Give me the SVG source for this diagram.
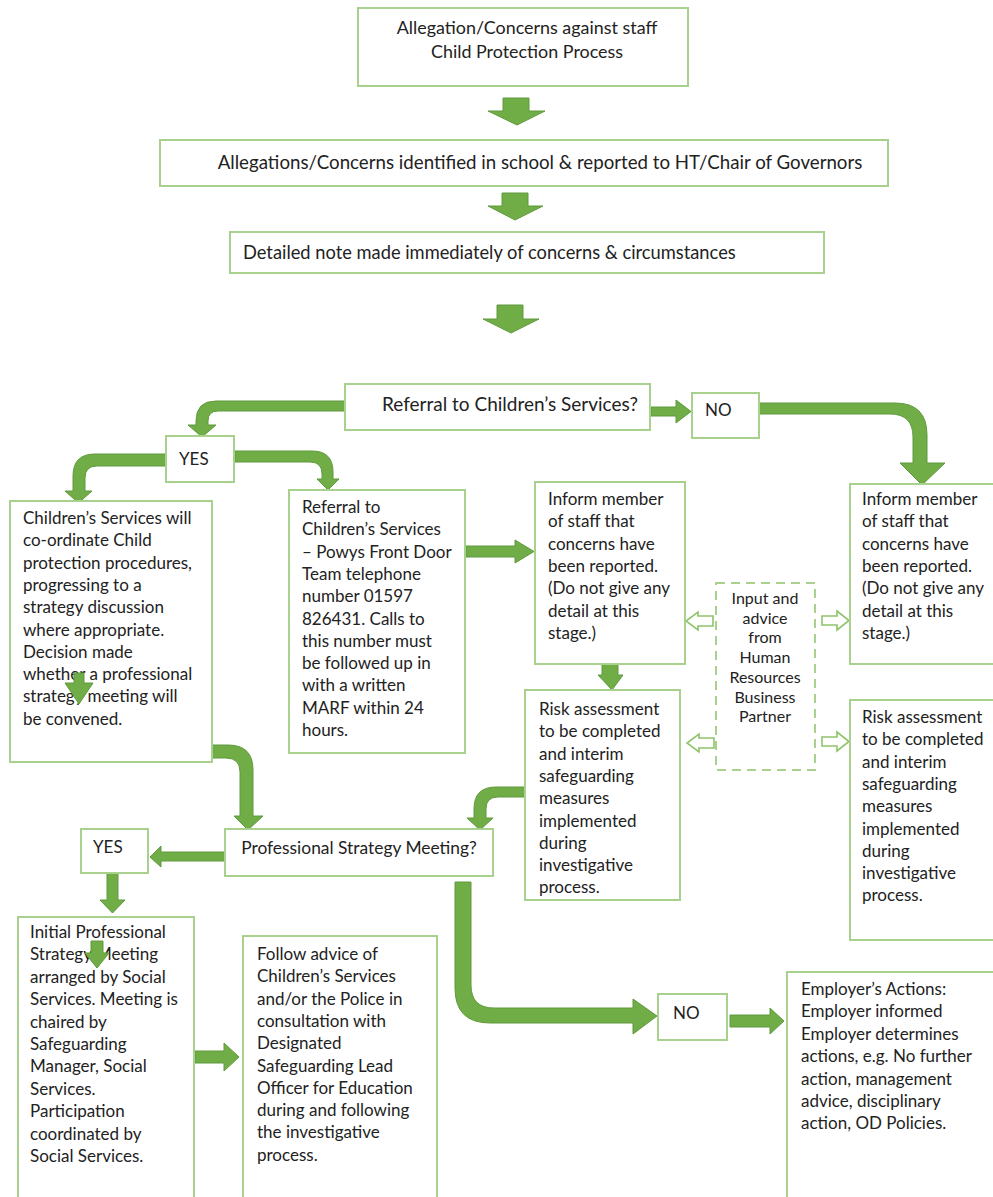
<svg xmlns="http://www.w3.org/2000/svg" width="993" height="1197" viewBox="0 0 993 1197">
<style>
.box{fill:#fff;stroke:#a9d18e;stroke-width:2}
.dash{fill:#fff;stroke:#a9d18e;stroke-width:2;stroke-dasharray:9 6}
.arr{fill:#70ad47;stroke:#5f9a3c;stroke-width:1}
.hol{fill:#fff;stroke:#8fc46a;stroke-width:1.6}
text{font-family:Lato,"Open Sans","Liberation Sans",sans-serif;font-size:17px;fill:#222}
.sm{font-size:16px}
</style>
<rect width="993" height="1197" fill="#fff"/>
<g id="connectors">
<path class="arr" d="M503,98 H529 V111 H545 L517,125 L488,111 H503 Z"/>
<path class="arr" d="M502,193 H528 V206 H543 L515,220 L488,206 H502 Z"/>
<path class="arr" d="M497,305 H523 V319 H539 L511,333 L483,319 H497 Z"/>
<path class="arr" d="M345,401 H216 Q196,401 196,421 V425 H188 L202,437 L216,425 H208 V421 Q208,411 218,411 H345 Z"/>
<path class="arr" d="M235,451 H312 Q333,451 333,472 V479 H339 L328,490 L317,479 H322 V474 Q322,462 310,462 H235 Z"/>
<path class="arr" d="M166,454 H95 Q73,454 73,476 V491 H65 L78.5,503 L92,491 H85 V478 Q85,466 97,466 H166 Z"/>
<path class="arr" d="M651,407 H676 V400 L691,411.5 L676,423 V416 H651 Z"/>
<path class="arr" d="M759,403 H895 Q927,403 927,435 V463 H945 L922,485 L900,463 H913 V437 Q913,414 890,414 H759 Z"/>
<path class="arr" d="M466,546 H515 V540 L534,551.5 L515,563 V557 H466 Z"/>
<path class="arr" d="M602,664 H618 V675 H623 L612,690 L598,675 H602 Z"/>
<path class="arr" d="M212,745 H228 Q253,745 253,770 V816 H263 L248,830 L234,816 H240 V772 Q240,758 226,758 H212 Z"/>
<path class="arr" d="M525,787 H496 Q474,787 474,809 V818 H467 L480,830 L493,818 H486 V809 Q486,797 498,797 H525 Z"/>
<path class="arr" d="M225,852 H161 V846 L150,857 L161,867 V861 H225 Z"/>
<path class="arr" d="M107,873 H118 V900 H125 L112.5,913 L100,900 H107 Z"/>
<path class="arr" d="M195,1051 H224 V1043 L239,1057 L224,1071 V1063 H195 Z"/>
<path class="arr" d="M455,882 H471 V985 Q471,1008 494,1008 H633 V999 L657,1016 L633,1034 V1023 H490 Q455,1023 455,988 Z"/>
<path class="arr" d="M730,1015 H770 V1008 L784,1021 L770,1034 V1027 H730 Z"/>
<path class="hol" d="M713,616 H698 V612 L686,621 L698,630 V626 H713 Z"/>
<path class="hol" d="M714,738 H699 V734 L687,743 L699,752 V748 H714 Z"/>
<path class="hol" d="M822,616 H837 V611 L849,620.5 L837,630 V625 H822 Z"/>
<path class="hol" d="M822,737 H837 V732 L849,741.5 L837,751 V746 H822 Z"/>
</g>
<g id="n-title">
<rect class="box" x="358" y="8" width="330" height="78"/>
<text x="527" y="34" text-anchor="middle" style="font-size:17.9px">Allegation/Concerns against staff</text>
<text x="527" y="58" text-anchor="middle" style="font-size:17.9px">Child Protection Process</text>
</g>
<g id="n-identified">
<rect class="box" x="160" y="140" width="728" height="46"/>
<text x="540" y="169" text-anchor="middle" style="font-size:18.7px">Allegations/Concerns identified in school &amp; reported to HT/Chair of Governors</text>
</g>
<g id="n-note">
<rect class="box" x="230" y="232" width="594" height="41"/>
<text x="243" y="259" style="font-size:18.3px">Detailed note made immediately of concerns &amp; circumstances</text>
</g>
<g id="n-referral-q">
<rect class="box" x="345" y="384" width="305" height="46"/>
<text x="382" y="411" style="font-size:19px">Referral to Children’s Services?</text>
</g>
<g id="n-yes1">
<rect class="box" x="166" y="436" width="68" height="46"/>
<text x="179" y="465">YES</text>
</g>
<g id="n-no1">
<rect class="box" x="692" y="393" width="67" height="45"/>
<text x="705" y="416">NO</text>
</g>
<g id="n-coordinate">
<rect class="box" x="10" y="501" width="202" height="261"/>
<text x="23" y="524"><tspan x="23">Children’s Services will</tspan><tspan x="23" dy="22.3">co-ordinate Child</tspan><tspan x="23" dy="22.3">protection procedures,</tspan><tspan x="23" dy="22.3">progressing to a</tspan><tspan x="23" dy="22.3">strategy discussion</tspan><tspan x="23" dy="22.3">where appropriate.</tspan><tspan x="23" dy="22.3">Decision made</tspan><tspan x="23" dy="22.3">whether a professional</tspan><tspan x="23" dy="22.3">strategy meeting will</tspan><tspan x="23" dy="22.3">be convened.</tspan></text>
<path class="arr" d="M74,673 H84 V683 H93 L79,704 L65,683 H74 Z"/>
</g>
<g id="n-referral">
<rect class="box" x="289" y="490" width="176" height="263"/>
<text x="302" y="513"><tspan x="302">Referral to</tspan><tspan x="302" dy="22.3">Children’s Services</tspan><tspan x="302" dy="22.3">– Powys Front Door</tspan><tspan x="302" dy="22.3">Team telephone</tspan><tspan x="302" dy="22.3">number 01597</tspan><tspan x="302" dy="22.3">826431. Calls to</tspan><tspan x="302" dy="22.3">this number must</tspan><tspan x="302" dy="22.3">be followed up in</tspan><tspan x="302" dy="22.3">with a written</tspan><tspan x="302" dy="22.3">MARF within 24</tspan><tspan x="302" dy="22.3">hours.</tspan></text>
</g>
<g id="n-inform-mid">
<rect class="box" x="535" y="482" width="150" height="182"/>
<text x="548" y="505"><tspan x="548">Inform member</tspan><tspan x="548" dy="22.3">of staff that</tspan><tspan x="548" dy="22.3">concerns have</tspan><tspan x="548" dy="22.3">been reported.</tspan><tspan x="548" dy="22.3">(Do not give any</tspan><tspan x="548" dy="22.3">detail at this</tspan><tspan x="548" dy="22.3">stage.)</tspan></text>
</g>
<g id="n-inform-right">
<rect class="box" x="850" y="484" width="150" height="180"/>
<text x="862" y="505"><tspan x="862">Inform member</tspan><tspan x="862" dy="22.3">of staff that</tspan><tspan x="862" dy="22.3">concerns have</tspan><tspan x="862" dy="22.3">been reported.</tspan><tspan x="862" dy="22.3">(Do not give any</tspan><tspan x="862" dy="22.3">detail at this</tspan><tspan x="862" dy="22.3">stage.)</tspan></text>
</g>
<g id="n-hr">
<rect class="dash" x="716" y="583" width="99" height="187"/>
<text class="sm" text-anchor="middle" x="765" y="604"><tspan x="765">Input and</tspan><tspan x="765" dy="19.7">advice</tspan><tspan x="765" dy="19.7">from</tspan><tspan x="765" dy="19.7">Human</tspan><tspan x="765" dy="19.7">Resources</tspan><tspan x="765" dy="19.7">Business</tspan><tspan x="765" dy="19.7">Partner</tspan></text>
</g>
<g id="n-risk-mid">
<rect class="box" x="525" y="690" width="155" height="210"/>
<text x="539" y="715"><tspan x="539">Risk assessment</tspan><tspan x="539" dy="22.3">to be completed</tspan><tspan x="539" dy="22.3">and interim</tspan><tspan x="539" dy="22.3">safeguarding</tspan><tspan x="539" dy="22.3">measures</tspan><tspan x="539" dy="22.3">implemented</tspan><tspan x="539" dy="22.3">during</tspan><tspan x="539" dy="22.3">investigative</tspan><tspan x="539" dy="22.3">process.</tspan></text>
</g>
<g id="n-risk-right">
<rect class="box" x="850" y="700" width="150" height="240"/>
<text x="862" y="723"><tspan x="862">Risk assessment</tspan><tspan x="862" dy="22.3">to be completed</tspan><tspan x="862" dy="22.3">and interim</tspan><tspan x="862" dy="22.3">safeguarding</tspan><tspan x="862" dy="22.3">measures</tspan><tspan x="862" dy="22.3">implemented</tspan><tspan x="862" dy="22.3">during</tspan><tspan x="862" dy="22.3">investigative</tspan><tspan x="862" dy="22.3">process.</tspan></text>
</g>
<g id="n-psm">
<rect class="box" x="225" y="829" width="268" height="47"/>
<text x="359" y="854" text-anchor="middle" style="font-size:17.4px">Professional Strategy Meeting?</text>
</g>
<g id="n-yes2">
<rect class="box" x="81" y="829" width="67" height="44"/>
<text x="93" y="853">YES</text>
</g>
<g id="n-initial">
<rect class="box" x="18" y="917" width="176" height="290"/>
<text x="30" y="938"><tspan x="30">Initial Professional</tspan><tspan x="30" dy="22.4">Strategy Meeting</tspan><tspan x="30" dy="22.4">arranged by Social</tspan><tspan x="30" dy="22.4">Services. Meeting is</tspan><tspan x="30" dy="22.4">chaired by</tspan><tspan x="30" dy="22.4">Safeguarding</tspan><tspan x="30" dy="22.4">Manager, Social</tspan><tspan x="30" dy="22.4">Services.</tspan><tspan x="30" dy="22.4">Participation</tspan><tspan x="30" dy="22.4">coordinated by</tspan><tspan x="30" dy="22.4">Social Services.</tspan></text>
<path class="arr" d="M91,941 H103 V953 H109 L97,968 L85,953 H91 Z"/>
</g>
<g id="n-follow">
<rect class="box" x="243" y="936" width="194" height="270"/>
<text x="257" y="960"><tspan x="257">Follow advice of</tspan><tspan x="257" dy="22.3">Children’s Services</tspan><tspan x="257" dy="22.3">and/or the Police in</tspan><tspan x="257" dy="22.3">consultation with</tspan><tspan x="257" dy="22.3">Designated</tspan><tspan x="257" dy="22.3">Safeguarding Lead</tspan><tspan x="257" dy="22.3">Officer for Education</tspan><tspan x="257" dy="22.3">during and following</tspan><tspan x="257" dy="22.3">the investigative</tspan><tspan x="257" dy="22.3">process.</tspan></text>
</g>
<g id="n-no2">
<rect class="box" x="658" y="994" width="69" height="46"/>
<text x="673" y="1019">NO</text>
</g>
<g id="n-employer">
<rect class="box" x="787" y="972" width="213" height="235"/>
<text x="801" y="995"><tspan x="801">Employer’s Actions:</tspan><tspan x="801" dy="22.4">Employer informed</tspan><tspan x="801" dy="22.4">Employer determines</tspan><tspan x="801" dy="22.4">actions, e.g. No further</tspan><tspan x="801" dy="22.4">action, management</tspan><tspan x="801" dy="22.4">advice, disciplinary</tspan><tspan x="801" dy="22.4">action, OD Policies.</tspan></text>
</g>
</svg>
